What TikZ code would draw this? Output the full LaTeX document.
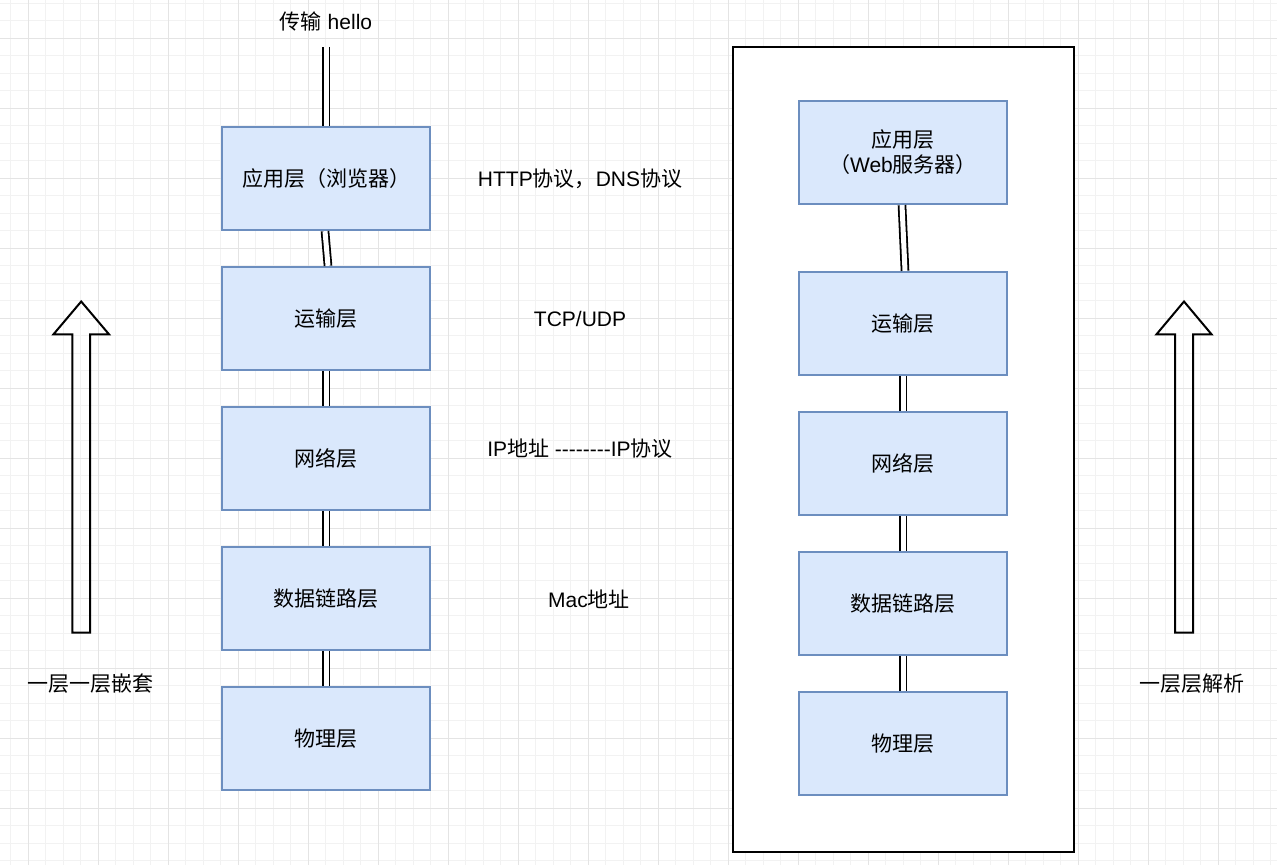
\documentclass[tikz,border=0pt]{standalone}
\usepackage{fontspec}
\setmainfont{Liberation Sans}
\newfontfamily\cjk{Noto Sans CJK SC}
\definecolor{boxfill}{HTML}{DAE8FC}
\definecolor{boxline}{HTML}{6C8EBF}
\definecolor{gridminor}{HTML}{F2F2F2}
\definecolor{gridmajor}{HTML}{E4E4E4}
\begin{document}
\begin{tikzpicture}[x=0.5pt,y=-0.5pt,
  txt/.style={font=\fontsize{10.5pt}{12.5pt}\selectfont, inner sep=0pt, align=center},
  layer/.style={txt, draw=boxline, fill=boxfill, line width=0.85pt, minimum width=104pt, minimum height=51.8pt},
  link/.style={double, double distance=2.5pt, line width=0.9pt},
  hollow/.style={draw=black, line width=1pt, line join=miter}]
\useasboundingbox (0,0) rectangle (1277,865);
\fill[white] (0,0) rectangle (1277,865);
% grid
\foreach \i in {0,...,72} {
  \pgfmathsetmacro{\gx}{10.8+17.5*\i}
  \draw[gridminor, line width=0.5pt] (\gx,0) -- (\gx,865);
}
\foreach \i in {0,...,49} {
  \pgfmathsetmacro{\gy}{3.3+17.5*\i}
  \draw[gridminor, line width=0.5pt] (0,\gy) -- (1277,\gy);
}
\foreach \i in {0,...,18} {
  \pgfmathsetmacro{\gx}{28.3+70*\i}
  \draw[gridmajor, line width=0.5pt] (\gx,0) -- (\gx,865);
}
\foreach \i in {0,...,12} {
  \pgfmathsetmacro{\gy}{38.3+70*\i}
  \draw[gridmajor, line width=0.5pt] (0,\gy) -- (1277,\gy);
}
% outer frame on the right
\draw[fill=white, line width=1pt] (733,47) rectangle (1074,852);
% left stack
\node[layer] (L1) at (326,178.5) {{\cjk 应用层（浏览器）}};
\node[layer] (L2) at (326,318.5) {{\cjk 运输层}};
\node[layer] (L3) at (326,458.5) {{\cjk 网络层}};
\node[layer] (L4) at (326,598.5) {{\cjk 数据链路层}};
\node[layer] (L5) at (326,738.5) {{\cjk 物理层}};
% right stack
\node[layer] (R1) at (903,152.5) {{\cjk 应用层}\\{\cjk （}Web{\cjk 服务器）}};
\node[layer] (R2) at (903,323.5) {{\cjk 运输层}};
\node[layer] (R3) at (903,463.5) {{\cjk 网络层}};
\node[layer] (R4) at (903,603.5) {{\cjk 数据链路层}};
\node[layer] (R5) at (903,743.5) {{\cjk 物理层}};
% labels
\node[txt] (hello) at (326,21) {{\cjk 传输} hello};
\node[txt] (p1) at (580,179) {HTTP{\cjk 协议，}DNS{\cjk 协议}};
\node[txt] (p2) at (580,319) {TCP/UDP};
\node[txt] (p3) at (580,449) {IP{\cjk 地址} -{}-{}-{}-{}-{}-{}-{}-{}IP{\cjk 协议}};
\node[txt] (p4) at (589,599) {Mac{\cjk 地址}};
\node[txt] (nest) at (90,684) {{\cjk 一层一层嵌套}};
\node[txt] (parse) at (1192,684) {{\cjk 一层层解析}};
% connectors
\coordinate (top) at (326,47);
\draw[link] (top) -- (L1.north);
\draw[link] ([xshift=-0.5pt]L1.south) -- ([xshift=1pt]L2.north);
\draw[link] (L2) -- (L3);
\draw[link] (L3.south) -- (L4.north);
\draw[link] (L4.south) -- (L5.north);
\draw[link] ([xshift=-0.5pt]R1.south) -- ([xshift=1pt]R2.north);
\draw[link] (R2.south) -- (R3.north);
\draw[link] (R3.south) -- (R4.north);
\draw[link] (R4.south) -- (R5.north);
% hollow arrows
\draw[hollow] (72.3,632.5) -- (72.3,334.3) -- (53.5,334.3) -- (81.2,301.5) -- (109,334.3) -- (90,334.3) -- (90,632.5) -- cycle;
\draw[hollow] (1175,632.5) -- (1175,334.3) -- (1156.5,334.3) -- (1184,301.5) -- (1211.5,334.3) -- (1193,334.3) -- (1193,632.5) -- cycle;
\end{tikzpicture}
\end{document}
